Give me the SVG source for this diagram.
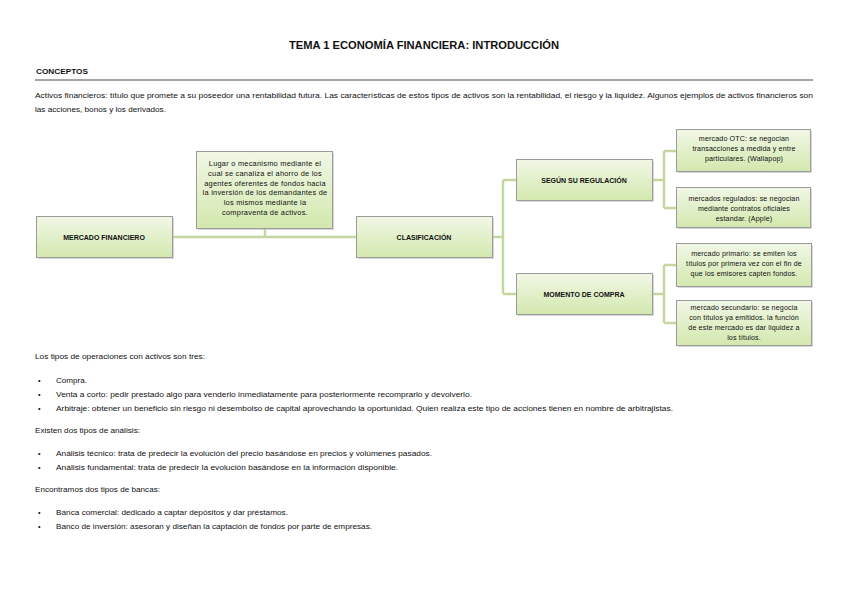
<svg xmlns="http://www.w3.org/2000/svg" width="848" height="599" viewBox="0 0 848 599">
<defs>
<linearGradient id="g" x1="0" y1="0" x2="0" y2="1">
<stop offset="0" stop-color="#f1f7e6"/>
<stop offset="1" stop-color="#d3e8ae"/>
</linearGradient>
<style>
text{font-family:"Liberation Sans","DejaVu Sans",sans-serif;fill:#111}
.t{font-size:11.5px;font-weight:bold;text-anchor:middle}
.h{font-size:7px;font-weight:bold}
.b{font-size:7.3px}
.bx{fill:url(#g);stroke:#9c9c9c;stroke-width:1}
.sh{fill:#bdbdbd;opacity:0.6}
.lbl{font-size:7px;font-weight:bold;text-anchor:middle}
.n{font-size:7.4px;text-anchor:middle;letter-spacing:0.25px}
.m{font-size:7.1px;text-anchor:middle;letter-spacing:0.15px}
.c{fill:none;stroke:#c4d79e;stroke-width:2.5}
</style>
</defs>
<rect width="848" height="599" fill="#fff"/>
<text class="t" x="424" y="49" textLength="270" lengthAdjust="spacingAndGlyphs">TEMA 1 ECONOMÍA FINANCIERA: INTRODUCCIÓN</text>
<text class="h" x="36" y="74" textLength="52" lengthAdjust="spacingAndGlyphs">CONCEPTOS</text>
<rect x="35" y="79" width="778" height="2" fill="#a6a6a6"/>
<text class="b" x="35" y="98" textLength="778" lengthAdjust="spacingAndGlyphs">Activos financieros: título que promete a su poseedor una rentabilidad futura. Las características de estos tipos de activos son la rentabilidad, el riesgo y la liquidez. Algunos ejemplos de activos financieros son</text>
<text class="b" x="35" y="112" textLength="131" lengthAdjust="spacingAndGlyphs">las acciones, bonos y los derivados.</text>

<g id="connectors">
<path class="c" d="M173 237H356M265 229V237"/>
<path class="c" d="M492 237H503M503 180V294M503 180H517M503 294H517"/>
<path class="c" d="M652 180H664M664 151V208M664 151H676M664 208H676"/>
<path class="c" d="M652 294H664M664 265V323M664 265H676M664 323H676"/>
</g>

<g id="mercado">
<rect class="sh" x="38" y="218" width="136" height="41"/>
<rect class="bx" x="36.5" y="216.5" width="136" height="41"/>
<text class="lbl" x="104" y="240">MERCADO FINANCIERO</text>
</g>
<g id="definicion">
<rect class="sh" x="198" y="153" width="136" height="77"/>
<rect class="bx" x="196.5" y="151.5" width="136" height="77"/>
<text class="n" x="265" y="166">Lugar o mecanismo mediante el</text>
<text class="n" x="265" y="176">cual se canaliza el ahorro de los</text>
<text class="n" x="265" y="186">agentes oferentes de fondos hacia</text>
<text class="n" x="265" y="195">la inversión de los demandantes de</text>
<text class="n" x="265" y="205">los mismos mediante la</text>
<text class="n" x="265" y="215">compraventa de activos.</text>
</g>
<g id="clasificacion">
<rect class="sh" x="358" y="218" width="136" height="41"/>
<rect class="bx" x="356.5" y="216.5" width="136" height="41"/>
<text class="lbl" x="424" y="240">CLASIFICACIÓN</text>
</g>
<g id="regulacion">
<rect class="sh" x="518" y="161" width="136" height="41"/>
<rect class="bx" x="516.5" y="159.5" width="136" height="41"/>
<text class="lbl" x="584" y="183">SEGÚN SU REGULACIÓN</text>
</g>
<g id="momento">
<rect class="sh" x="518" y="275" width="136" height="41"/>
<rect class="bx" x="516.5" y="273.5" width="136" height="41"/>
<text class="lbl" x="584" y="297">MOMENTO DE COMPRA</text>
</g>
<g id="otc">
<rect class="sh" x="678" y="131" width="134" height="42"/>
<rect class="bx" x="676.5" y="129.5" width="134" height="42"/>
<text class="m" x="744" y="141">mercado OTC: se negocian</text>
<text class="m" x="744" y="151">transacciones a medida y entre</text>
<text class="m" x="744" y="161">particulares. (Wallapop)</text>
</g>
<g id="regulados">
<rect class="sh" x="678" y="189" width="134" height="40"/>
<rect class="bx" x="676.5" y="187.5" width="134" height="40"/>
<text class="m" x="744" y="201">mercados regulados: se negocian</text>
<text class="m" x="744" y="211">mediante contratos oficiales</text>
<text class="m" x="744" y="221">estandar. (Apple)</text>
</g>
<g id="primario">
<rect class="sh" x="678" y="245" width="135" height="43"/>
<rect class="bx" x="676.5" y="243.5" width="135" height="43"/>
<text class="m" x="744" y="256">mercado primario: se emiten los</text>
<text class="m" x="744" y="266">títulos por primera vez con el fin de</text>
<text class="m" x="744" y="276">que los emisores capten fondos.</text>
</g>
<g id="secundario">
<rect class="sh" x="678" y="302" width="135" height="45"/>
<rect class="bx" x="676.5" y="300.5" width="135" height="45"/>
<text class="m" x="744" y="310">mercado secundario: se negocia</text>
<text class="m" x="744" y="320">con títulos ya emitidos. la función</text>
<text class="m" x="744" y="330">de este mercado es dar liquidez a</text>
<text class="m" x="744" y="340">los títulos.</text>
</g>

<text class="b" x="35" y="359" textLength="170" lengthAdjust="spacingAndGlyphs">Los tipos de operaciones con activos son tres:</text>
<text class="b" x="38" y="383">•</text>
<text class="b" x="56" y="383" textLength="31" lengthAdjust="spacingAndGlyphs">Compra.</text>
<text class="b" x="38" y="397">•</text>
<text class="b" x="56" y="397" textLength="416" lengthAdjust="spacingAndGlyphs">Venta a corto: pedir prestado algo para venderlo inmediatamente para posteriormente recomprarlo y devolverlo.</text>
<text class="b" x="38" y="411">•</text>
<text class="b" x="56" y="411" textLength="617" lengthAdjust="spacingAndGlyphs">Arbitraje: obtener un beneficio sin riesgo ni desembolso de capital aprovechando la oportunidad. Quien realiza este tipo de acciones tienen en nombre de arbitrajistas.</text>
<text class="b" x="35" y="433" textLength="105" lengthAdjust="spacingAndGlyphs">Existen dos tipos de análisis:</text>
<text class="b" x="38" y="456">•</text>
<text class="b" x="56" y="456" textLength="376" lengthAdjust="spacingAndGlyphs">Análisis técnico: trata de predecir la evolución del precio basándose en precios y volúmenes pasados.</text>
<text class="b" x="38" y="470">•</text>
<text class="b" x="56" y="470" textLength="342" lengthAdjust="spacingAndGlyphs">Análisis fundamental: trata de predecir la evolución basándose en la información disponible.</text>
<text class="b" x="35" y="492" textLength="125" lengthAdjust="spacingAndGlyphs">Encontramos dos tipos de bancas:</text>
<text class="b" x="38" y="515">•</text>
<text class="b" x="56" y="515" textLength="232" lengthAdjust="spacingAndGlyphs">Banca comercial: dedicado a captar depósitos y dar préstamos.</text>
<text class="b" x="38" y="529">•</text>
<text class="b" x="56" y="529" textLength="316" lengthAdjust="spacingAndGlyphs">Banco de inversión: asesoran y diseñan la captación de fondos por parte de empresas.</text>
</svg>
